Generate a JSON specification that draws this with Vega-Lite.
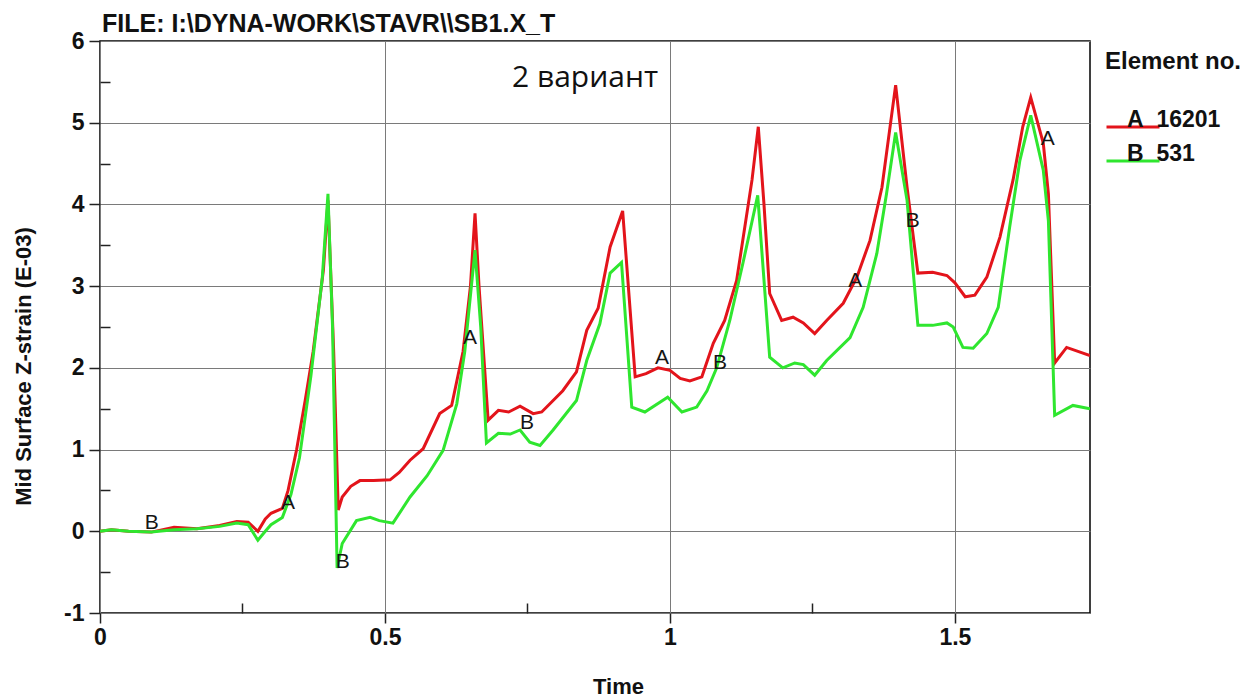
{
  "$schema": "https://vega.github.io/schema/vega-lite/v6.json",
  "autosize": {"type": "none"},
  "padding": {"left": 100, "top": 41, "right": 159, "bottom": 86},
  "width": 990,
  "height": 572,
  "background": "white",
  "title": {
    "text": "FILE: I:\\DYNA-WORK\\STAVR\\\\SB1.X_T",
    "anchor": "start",
    "frame": "group",
    "baseline": "alphabetic",
    "offset": 8,
    "font": "Liberation Sans",
    "fontSize": 25,
    "fontWeight": "bold",
    "color": "#111111",
    "dx": 2,
    "dy": 35
  },
  "config": {
    "view": {"stroke": "#000000", "strokeWidth": 1.5},
    "font": "Liberation Sans"
  },
  "datasets": {
    "curves": [
      {"t": 0, "v": 0, "s": "A"},
      {"t": 0.02, "v": 0.02, "s": "A"},
      {"t": 0.05, "v": 0.0, "s": "A"},
      {"t": 0.09, "v": -0.01, "s": "A"},
      {"t": 0.13, "v": 0.05, "s": "A"},
      {"t": 0.17, "v": 0.03, "s": "A"},
      {"t": 0.21, "v": 0.07, "s": "A"},
      {"t": 0.24, "v": 0.12, "s": "A"},
      {"t": 0.26, "v": 0.11, "s": "A"},
      {"t": 0.277, "v": 0.0, "s": "A"},
      {"t": 0.29, "v": 0.15, "s": "A"},
      {"t": 0.30, "v": 0.22, "s": "A"},
      {"t": 0.32, "v": 0.28, "s": "A"},
      {"t": 0.33, "v": 0.5, "s": "A"},
      {"t": 0.345, "v": 1.0, "s": "A"},
      {"t": 0.36, "v": 1.6, "s": "A"},
      {"t": 0.374, "v": 2.2, "s": "A"},
      {"t": 0.392, "v": 3.2, "s": "A"},
      {"t": 0.40, "v": 4.05, "s": "A"},
      {"t": 0.41, "v": 2.2, "s": "A"},
      {"t": 0.418, "v": 0.26, "s": "A"},
      {"t": 0.425, "v": 0.42, "s": "A"},
      {"t": 0.44, "v": 0.55, "s": "A"},
      {"t": 0.456, "v": 0.62, "s": "A"},
      {"t": 0.48, "v": 0.62, "s": "A"},
      {"t": 0.509, "v": 0.63, "s": "A"},
      {"t": 0.525, "v": 0.72, "s": "A"},
      {"t": 0.544, "v": 0.87, "s": "A"},
      {"t": 0.567, "v": 1.01, "s": "A"},
      {"t": 0.596, "v": 1.44, "s": "A"},
      {"t": 0.617, "v": 1.54, "s": "A"},
      {"t": 0.637, "v": 2.2, "s": "A"},
      {"t": 0.65, "v": 3.0, "s": "A"},
      {"t": 0.658, "v": 3.89, "s": "A"},
      {"t": 0.665, "v": 3.0, "s": "A"},
      {"t": 0.681, "v": 1.36, "s": "A"},
      {"t": 0.699, "v": 1.48, "s": "A"},
      {"t": 0.717, "v": 1.46, "s": "A"},
      {"t": 0.737, "v": 1.53, "s": "A"},
      {"t": 0.76, "v": 1.44, "s": "A"},
      {"t": 0.775, "v": 1.46, "s": "A"},
      {"t": 0.812, "v": 1.72, "s": "A"},
      {"t": 0.836, "v": 1.95, "s": "A"},
      {"t": 0.854, "v": 2.46, "s": "A"},
      {"t": 0.874, "v": 2.73, "s": "A"},
      {"t": 0.895, "v": 3.48, "s": "A"},
      {"t": 0.917, "v": 3.92, "s": "A"},
      {"t": 0.939, "v": 1.89, "s": "A"},
      {"t": 0.958, "v": 1.93, "s": "A"},
      {"t": 0.979, "v": 2.0, "s": "A"},
      {"t": 1.0, "v": 1.97, "s": "A"},
      {"t": 1.018, "v": 1.87, "s": "A"},
      {"t": 1.035, "v": 1.84, "s": "A"},
      {"t": 1.056, "v": 1.89, "s": "A"},
      {"t": 1.076, "v": 2.3, "s": "A"},
      {"t": 1.096, "v": 2.58, "s": "A"},
      {"t": 1.117, "v": 3.07, "s": "A"},
      {"t": 1.144, "v": 4.3, "s": "A"},
      {"t": 1.155, "v": 4.95, "s": "A"},
      {"t": 1.165, "v": 4.0, "s": "A"},
      {"t": 1.175, "v": 2.91, "s": "A"},
      {"t": 1.196, "v": 2.58, "s": "A"},
      {"t": 1.216, "v": 2.62, "s": "A"},
      {"t": 1.234, "v": 2.55, "s": "A"},
      {"t": 1.254, "v": 2.42, "s": "A"},
      {"t": 1.275, "v": 2.58, "s": "A"},
      {"t": 1.304, "v": 2.79, "s": "A"},
      {"t": 1.328, "v": 3.11, "s": "A"},
      {"t": 1.351, "v": 3.56, "s": "A"},
      {"t": 1.372, "v": 4.21, "s": "A"},
      {"t": 1.396, "v": 5.46, "s": "A"},
      {"t": 1.416, "v": 4.21, "s": "A"},
      {"t": 1.435, "v": 3.16, "s": "A"},
      {"t": 1.461, "v": 3.17, "s": "A"},
      {"t": 1.486, "v": 3.13, "s": "A"},
      {"t": 1.5, "v": 3.04, "s": "A"},
      {"t": 1.518, "v": 2.87, "s": "A"},
      {"t": 1.535, "v": 2.89, "s": "A"},
      {"t": 1.556, "v": 3.11, "s": "A"},
      {"t": 1.579, "v": 3.6, "s": "A"},
      {"t": 1.602, "v": 4.3, "s": "A"},
      {"t": 1.619, "v": 4.95, "s": "A"},
      {"t": 1.633, "v": 5.31, "s": "A"},
      {"t": 1.655, "v": 4.75, "s": "A"},
      {"t": 1.664, "v": 4.13, "s": "A"},
      {"t": 1.675, "v": 2.06, "s": "A"},
      {"t": 1.696, "v": 2.25, "s": "A"},
      {"t": 1.737, "v": 2.15, "s": "A"},
      {"t": 0, "v": 0, "s": "B"},
      {"t": 0.02, "v": 0.02, "s": "B"},
      {"t": 0.05, "v": 0.0, "s": "B"},
      {"t": 0.09, "v": -0.01, "s": "B"},
      {"t": 0.13, "v": 0.02, "s": "B"},
      {"t": 0.17, "v": 0.03, "s": "B"},
      {"t": 0.21, "v": 0.06, "s": "B"},
      {"t": 0.24, "v": 0.1, "s": "B"},
      {"t": 0.26, "v": 0.08, "s": "B"},
      {"t": 0.277, "v": -0.11, "s": "B"},
      {"t": 0.29, "v": 0.0, "s": "B"},
      {"t": 0.30, "v": 0.08, "s": "B"},
      {"t": 0.32, "v": 0.17, "s": "B"},
      {"t": 0.335, "v": 0.45, "s": "B"},
      {"t": 0.35, "v": 0.9, "s": "B"},
      {"t": 0.37, "v": 1.9, "s": "B"},
      {"t": 0.39, "v": 3.1, "s": "B"},
      {"t": 0.40, "v": 4.13, "s": "B"},
      {"t": 0.408, "v": 2.5, "s": "B"},
      {"t": 0.416, "v": -0.45, "s": "B"},
      {"t": 0.425, "v": -0.15, "s": "B"},
      {"t": 0.45, "v": 0.13, "s": "B"},
      {"t": 0.474, "v": 0.17, "s": "B"},
      {"t": 0.49, "v": 0.13, "s": "B"},
      {"t": 0.514, "v": 0.1, "s": "B"},
      {"t": 0.544, "v": 0.42, "s": "B"},
      {"t": 0.574, "v": 0.68, "s": "B"},
      {"t": 0.602, "v": 0.99, "s": "B"},
      {"t": 0.626, "v": 1.56, "s": "B"},
      {"t": 0.64, "v": 2.2, "s": "B"},
      {"t": 0.658, "v": 3.44, "s": "B"},
      {"t": 0.668, "v": 2.5, "s": "B"},
      {"t": 0.678, "v": 1.08, "s": "B"},
      {"t": 0.699, "v": 1.2, "s": "B"},
      {"t": 0.72, "v": 1.19, "s": "B"},
      {"t": 0.737, "v": 1.24, "s": "B"},
      {"t": 0.754, "v": 1.09, "s": "B"},
      {"t": 0.772, "v": 1.05, "s": "B"},
      {"t": 0.795, "v": 1.24, "s": "B"},
      {"t": 0.836, "v": 1.6, "s": "B"},
      {"t": 0.854, "v": 2.09, "s": "B"},
      {"t": 0.877, "v": 2.54, "s": "B"},
      {"t": 0.895, "v": 3.16, "s": "B"},
      {"t": 0.915, "v": 3.29, "s": "B"},
      {"t": 0.933, "v": 1.52, "s": "B"},
      {"t": 0.956, "v": 1.46, "s": "B"},
      {"t": 0.996, "v": 1.64, "s": "B"},
      {"t": 1.021, "v": 1.46, "s": "B"},
      {"t": 1.047, "v": 1.52, "s": "B"},
      {"t": 1.065, "v": 1.72, "s": "B"},
      {"t": 1.082, "v": 2.0, "s": "B"},
      {"t": 1.105, "v": 2.58, "s": "B"},
      {"t": 1.128, "v": 3.28, "s": "B"},
      {"t": 1.154, "v": 4.11, "s": "B"},
      {"t": 1.175, "v": 2.13, "s": "B"},
      {"t": 1.198, "v": 2.0, "s": "B"},
      {"t": 1.219, "v": 2.06, "s": "B"},
      {"t": 1.234, "v": 2.04, "s": "B"},
      {"t": 1.254, "v": 1.91, "s": "B"},
      {"t": 1.275, "v": 2.09, "s": "B"},
      {"t": 1.316, "v": 2.37, "s": "B"},
      {"t": 1.339, "v": 2.74, "s": "B"},
      {"t": 1.363, "v": 3.4, "s": "B"},
      {"t": 1.38, "v": 4.13, "s": "B"},
      {"t": 1.396, "v": 4.88, "s": "B"},
      {"t": 1.416, "v": 4.05, "s": "B"},
      {"t": 1.435, "v": 2.52, "s": "B"},
      {"t": 1.461, "v": 2.52, "s": "B"},
      {"t": 1.486, "v": 2.55, "s": "B"},
      {"t": 1.497, "v": 2.5, "s": "B"},
      {"t": 1.514, "v": 2.25, "s": "B"},
      {"t": 1.532, "v": 2.24, "s": "B"},
      {"t": 1.556, "v": 2.42, "s": "B"},
      {"t": 1.576, "v": 2.74, "s": "B"},
      {"t": 1.596, "v": 3.72, "s": "B"},
      {"t": 1.614, "v": 4.54, "s": "B"},
      {"t": 1.633, "v": 5.09, "s": "B"},
      {"t": 1.655, "v": 4.42, "s": "B"},
      {"t": 1.664, "v": 3.8, "s": "B"},
      {"t": 1.675, "v": 1.42, "s": "B"},
      {"t": 1.707, "v": 1.54, "s": "B"},
      {"t": 1.737, "v": 1.5, "s": "B"}
    ],
    "markers": [
      {"t": 0.091, "v": 0.1, "lbl": "B"},
      {"t": 0.33, "v": 0.35, "lbl": "A"},
      {"t": 0.426, "v": -0.37, "lbl": "B"},
      {"t": 0.649, "v": 2.36, "lbl": "A"},
      {"t": 0.749, "v": 1.32, "lbl": "B"},
      {"t": 0.986, "v": 2.12, "lbl": "A"},
      {"t": 1.088, "v": 2.06, "lbl": "B"},
      {"t": 1.325, "v": 3.06, "lbl": "A"},
      {"t": 1.426, "v": 3.8, "lbl": "B"},
      {"t": 1.663, "v": 4.8, "lbl": "A"}
    ],
    "note": [
      {"t": 0.851, "v": 5.545, "txt": "2 вариант"}
    ]
  },
  "resolve": {"axis": {"x": "independent", "y": "independent"}},
  "layer": [
    {
      "data": {"name": "curves"},
      "mark": {"type": "line", "strokeWidth": 3, "clip": true},
      "encoding": {
        "x": {
          "field": "t", "type": "quantitative",
          "scale": {"domain": [0, 1.737], "nice": false, "zero": false},
          "axis": {
            "orient": "bottom",
            "values": [0, 0.5, 1, 1.5],
            "labelExpr": "'' + datum.value",
            "title": "Time",
            "titleFont": "Liberation Sans", "titleFontSize": 22, "titleFontWeight": "bold", "titleColor": "#111111",
            "titleX": 518, "titleY": 73, "titleBaseline": "middle", "titleAlign": "center",
            "labelFont": "Liberation Sans", "labelFontSize": 23, "labelFontWeight": "bold", "labelColor": "#111111",
            "labelPadding": 3, "labelFlush": false, "labelOverlap": false,
            "tickSize": 10, "tickColor": "#222222", "tickWidth": 1.5,
            "domain": false,
            "grid": true, "gridColor": "#7a7a7a", "gridWidth": 1, "gridOpacity": 1
          }
        },
        "y": {
          "field": "v", "type": "quantitative",
          "scale": {"domain": [-1, 6], "nice": false, "zero": false},
          "axis": {
            "orient": "left",
            "values": [-1, 0, 1, 2, 3, 4, 5, 6],
            "labelExpr": "'' + datum.value",
            "title": "Mid Surface Z-strain (E-03)",
            "titleFont": "Liberation Sans", "titleFontSize": 22, "titleFontWeight": "bold", "titleColor": "#111111",
            "titleX": -77, "titleY": 325, "titleBaseline": "middle", "titleAlign": "center", "titleAngle": 270,
            "labelFont": "Liberation Sans", "labelFontSize": 23, "labelFontWeight": "bold", "labelColor": "#111111",
            "labelPadding": 5, "labelFlush": false, "labelOverlap": false,
            "tickSize": 11, "tickColor": "#222222", "tickWidth": 1.5,
            "domain": false,
            "grid": true, "gridColor": "#7a7a7a", "gridWidth": 1, "gridOpacity": 1
          }
        },
        "color": {
          "field": "s", "type": "nominal",
          "scale": {"domain": ["A", "B"], "range": ["#e3141b", "#2fe62f"]},
          "legend": {
            "title": "Element no.",
            "orient": "none",
            "legendX": 1005,
            "legendY": 9,
            "titleFont": "Liberation Sans", "titleFontSize": 24, "titleFontWeight": "bold", "titleColor": "#111111",
            "titlePadding": 25,
            "labelExpr": "datum.label == 'A' ? 'A\u00a0\u00a016201' : 'B\u00a0\u00a0531'",
            "labelFont": "Liberation Sans", "labelFontSize": 23, "labelFontWeight": "bold", "labelColor": "#111111",
            "labelBaseline": "alphabetic",
            "labelOffset": -34,
            "symbolType": "stroke",
            "symbolSize": 2809,
            "symbolStrokeWidth": 3,
            "rowPadding": -29,
            "padding": 0
          }
        }
      }
    },
    {
      "data": {"name": "markers"},
      "mark": {"type": "text", "font": "Liberation Sans", "fontSize": 21, "color": "#151515", "align": "center", "baseline": "middle"},
      "encoding": {
        "x": {
          "field": "t", "type": "quantitative",
          "axis": {
            "orient": "bottom", "values": [0.25, 0.75, 1.25], "labels": false, "title": null,
            "domain": false, "grid": false, "tickSize": -10, "tickColor": "#222222", "tickWidth": 1.5
          }
        },
        "y": {
          "field": "v", "type": "quantitative",
          "axis": {
            "orient": "left", "values": [-0.5, 0.5, 1.5, 2.5, 3.5, 4.5, 5.5], "labels": false, "title": null,
            "domain": false, "grid": false, "tickSize": -10, "tickColor": "#222222", "tickWidth": 1.5
          }
        },
        "text": {"field": "lbl", "type": "nominal"}
      }
    },
    {
      "data": {"name": "note"},
      "mark": {"type": "text", "font": "Open Sans", "fontSize": 30, "color": "#111111", "align": "center", "baseline": "middle"},
      "encoding": {
        "x": {"field": "t", "type": "quantitative", "axis": null},
        "y": {"field": "v", "type": "quantitative", "axis": null},
        "text": {"field": "txt", "type": "nominal"}
      }
    }
  ]
}
